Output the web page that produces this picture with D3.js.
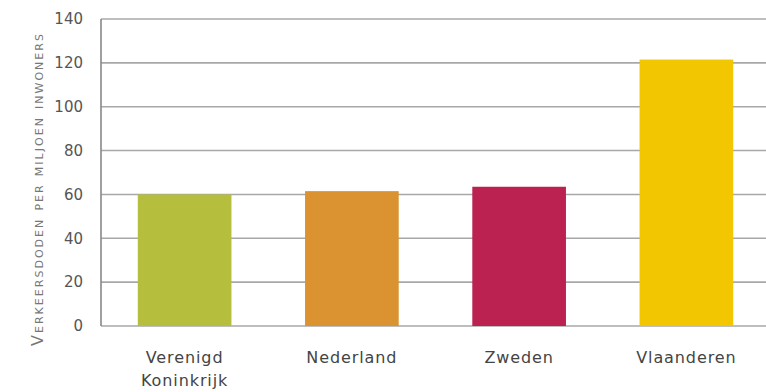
<!DOCTYPE html>
<html>
<head>
<meta charset="utf-8">
<script src="https://cdn.jsdelivr.net/npm/d3@7"></script>
<style>
	body { margin: 0; background: #fff; }
	svg { display: block; font-family: "DejaVu Sans", Arial, sans-serif; }
</style>
</head>
<body>
<div id="chart"></div>
<script>
// data
const countries = ["Verenigd Koninkrijk", "Nederland", "Zweden", "Vlaanderen"];
const deaths = [60, 61.5, 63.5, 121.5];
const barColors = ["#b6bf3d", "#da9330", "#bc2251", "#f2c600"];
const yTicks = [0, 20, 40, 60, 80, 100, 120, 140];

const width = 766, height = 392;
const x0 = 101, xEnd = 770, yTop = 19, yBottom = 326;

const svg = d3.select("#chart")
	.append("svg")
	.attr("width", width)
	.attr("height", height);

const x = d3.scaleBand()
	.domain(countries)
	.range([x0, xEnd])
	.paddingInner(0.44)
	.paddingOuter(0.22);

const y = d3.scaleLinear()
	.domain([0, 140])
	.range([yBottom, yTop]);

// gridlines
svg.append("g")
	.selectAll()
	.data(yTicks)
	.join("line")
	.attr("x1", x0)
	.attr("x2", width)
	.attr("y1", (d) => y(d))
	.attr("y2", (d) => y(d))
	.attr("stroke", "#a8a8a8")
	.attr("stroke-width", 1.6);

// bars
svg.append("g")
	.selectAll()
	.data(countries)
	.join("rect")
	.attr("x", (d) => x(d))
	.attr("width", x.bandwidth())
	.attr("y", (d, i) => y(deaths[i]))
	.attr("height", (d, i) => y(0) - y(deaths[i]))
	.attr("fill", (d, i) => barColors[i]);

// y axis line + labels
svg.append("line")
	.attr("x1", x0).attr("x2", x0)
	.attr("y1", y(140)).attr("y2", y(0))
	.attr("stroke", "#888")
	.attr("stroke-width", 1.6);

svg.append("g")
	.selectAll()
	.data(yTicks)
	.join("text")
	.attr("x", 83)
	.attr("y", (d) => y(d))
	.attr("dy", "0.35em")
	.attr("text-anchor", "end")
	.attr("font-size", 15)
	.attr("fill", "#555")
	.text((d) => d);

// x labels, split into lines
svg.append("g")
	.selectAll()
	.data(countries)
	.join("text")
	.attr("text-anchor", "middle")
	.attr("font-size", 16)
	.attr("fill", "#444")
	.style("letter-spacing", "0.9px")
	.each(function (d) {
		const words = d === "Verenigd Koninkrijk" ? ["Verenigd", "Koninkrijk"] : [d];
		d3.select(this).selectAll("tspan")
			.data(words)
			.join("tspan")
			.attr("x", x(d) + x.bandwidth() / 2)
			.attr("y", (w, i) => 363 + i * 23)
			.text((w) => w);
	});

// y axis title in small caps
svg.append("text")
	.attr("transform", "translate(43,190) rotate(-90)")
	.attr("text-anchor", "middle")
	.attr("font-size", 16)
	.attr("fill", "#777")
	.attr("textLength", 312)
	.attr("lengthAdjust", "spacing")
	.style("font-variant", "small-caps")
	.text("Verkeersdoden per miljoen inwoners");
</script>
</body>
</html>
